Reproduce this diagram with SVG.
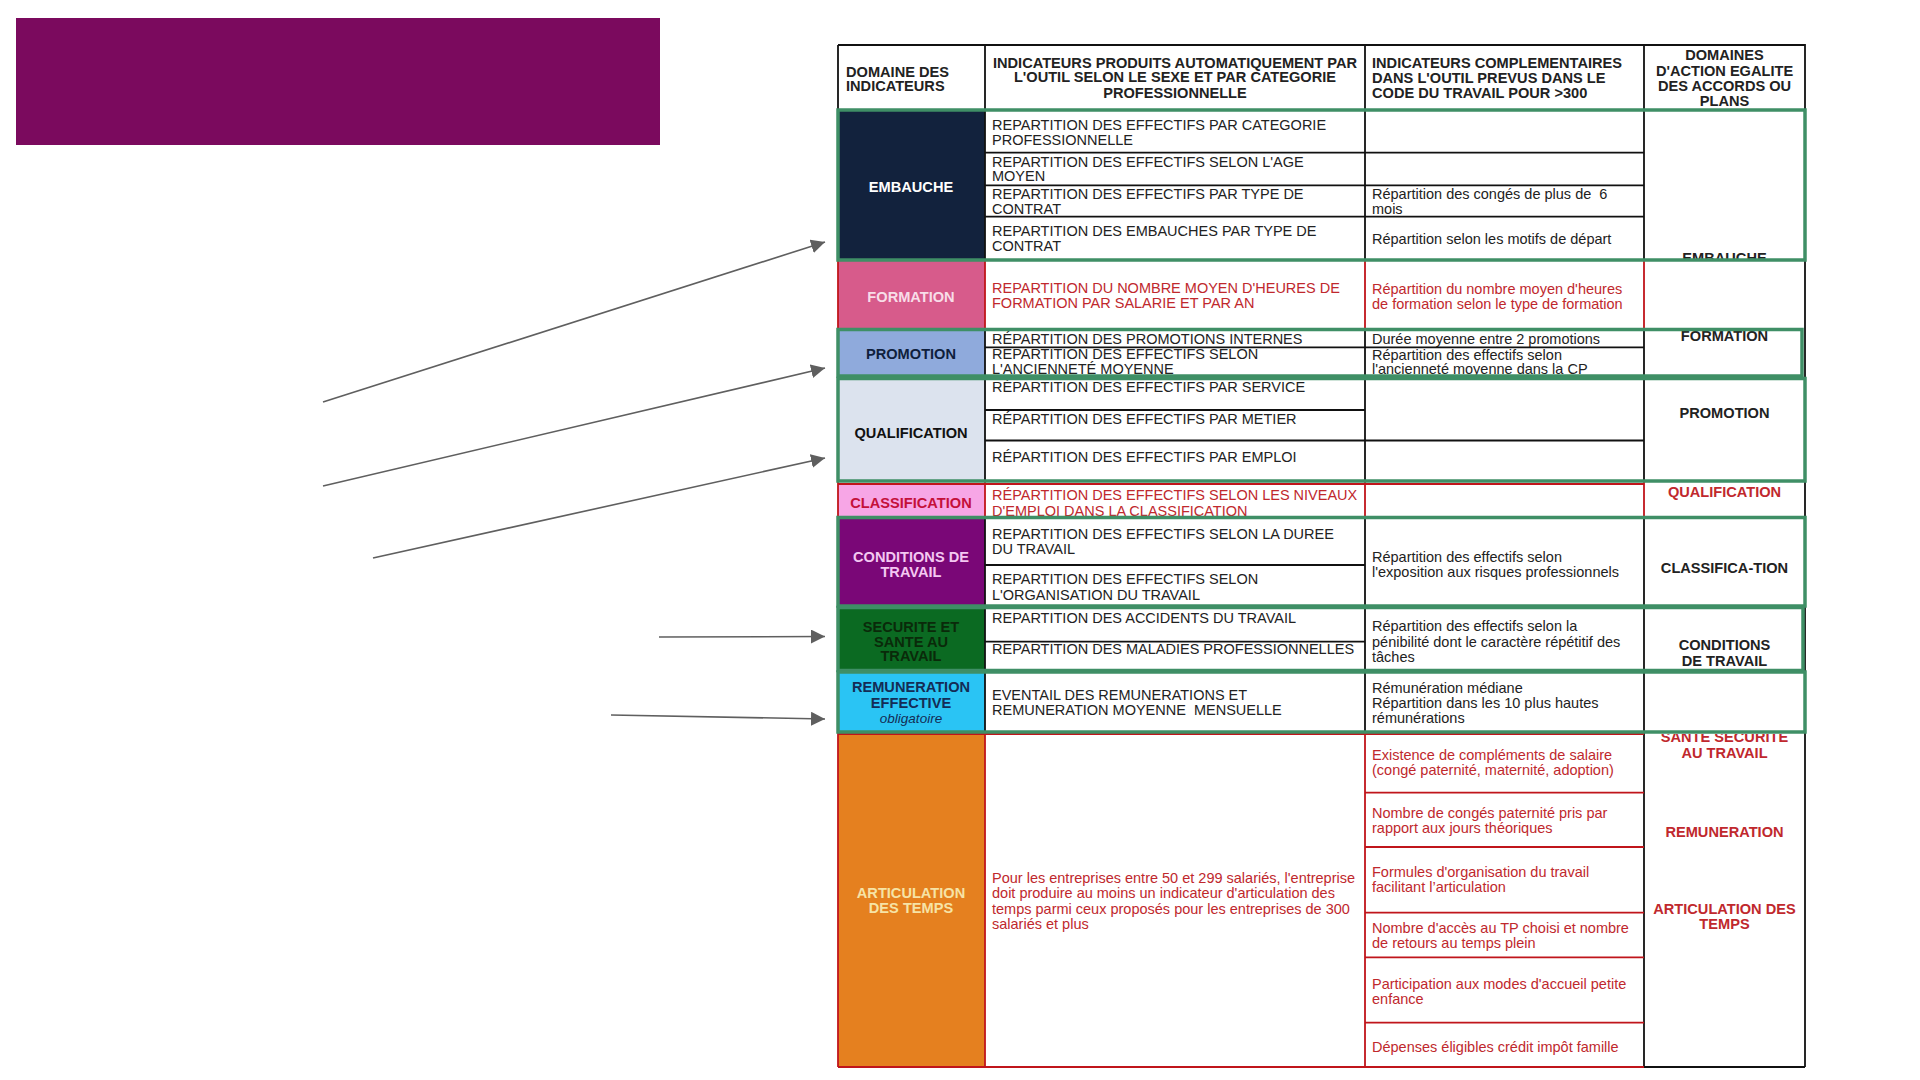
<svg xmlns="http://www.w3.org/2000/svg" width="1920" height="1080" viewBox="0 0 1920 1080">
<defs>
<style>
.t{font-family:"Liberation Sans",Arial,sans-serif;font-size:14.5px;fill:#222;white-space:pre}
.b{font-weight:bold;font-size:14.6px}
.r{fill:#c0282d}
.c{text-anchor:middle}
.k{stroke:#111;stroke-width:1.8;fill:none}
.rl{stroke:#c0151b;stroke-width:1.8;fill:none}
.g{fill:none;stroke:#3f8f66;stroke-width:3.5}
.arr{stroke:#5f5f5f;stroke-width:1.6;fill:none}
</style>
<marker id="ah" viewBox="0 0 10 10" refX="10" refY="5" markerWidth="14" markerHeight="14" markerUnits="userSpaceOnUse" orient="auto">
<path d="M0,0 L10,5 L0,10 z" fill="#5f5f5f"/>
</marker>
<clipPath id="cEmb"><rect x="1644" y="240" width="161" height="19"/></clipPath>
<clipPath id="cQual"><rect x="1644" y="486" width="161" height="30"/></clipPath>
<clipPath id="cSan"><rect x="1644" y="734" width="161" height="30"/></clipPath>
</defs>
<rect width="1920" height="1080" fill="#fff"/>
<rect id="title" x="16" y="18" width="644" height="127" fill="#7b0a5e"/>

<g id="header">
<text class="t b" x="846" y="76.5">DOMAINE DES</text>
<text class="t b" x="846" y="91">INDICATEURS</text>
<text class="t b c" x="1175" y="67.7">INDICATEURS PRODUITS AUTOMATIQUEMENT PAR</text>
<text class="t b c" x="1175" y="82.3">L'OUTIL SELON LE SEXE ET PAR CATEGORIE</text>
<text class="t b c" x="1175" y="97.7">PROFESSIONNELLE</text>
<text class="t b" x="1372" y="68.3">INDICATEURS COMPLEMENTAIRES</text>
<text class="t b" x="1372" y="82.7">DANS L'OUTIL PREVUS DANS LE</text>
<text class="t b" x="1372" y="97.7">CODE DU TRAVAIL POUR &gt;300</text>
<text class="t b c" x="1724.5" y="60">DOMAINES</text>
<text class="t b c" x="1724.5" y="75.7">D'ACTION EGALITE</text>
<text class="t b c" x="1724.5" y="91">DES ACCORDS OU</text>
<text class="t b c" x="1724.5" y="106">PLANS</text>
</g>

<g id="row-embauche">
<rect x="838" y="110" width="147" height="150" fill="#12223d"/>
<text class="t b c" x="911" y="192" style="fill:#fff">EMBAUCHE</text>
<text class="t" x="992" y="130">REPARTITION DES EFFECTIFS PAR CATEGORIE</text>
<text class="t" x="992" y="144.5">PROFESSIONNELLE</text>
<text class="t" x="992" y="166.5">REPARTITION DES EFFECTIFS SELON L'AGE</text>
<text class="t" x="992" y="181">MOYEN</text>
<text class="t" x="992" y="199">REPARTITION DES EFFECTIFS PAR TYPE DE</text>
<text class="t" x="992" y="213.5">CONTRAT</text>
<text class="t" x="992" y="235.5">REPARTITION DES EMBAUCHES PAR TYPE DE</text>
<text class="t" x="992" y="251">CONTRAT</text>
<text class="t" x="1372" y="199">Répartition des congés de plus de  6</text>
<text class="t" x="1372" y="213.5">mois</text>
<text class="t" x="1372" y="244">Répartition selon les motifs de départ</text>
<text class="t b c" x="1724.5" y="263" clip-path="url(#cEmb)">EMBAUCHE</text>
</g>

<g id="row-formation">
<rect x="838" y="261" width="147" height="68" fill="#d75b8b"/>
<text class="t b c" x="911" y="301.5" style="fill:#f8dde8">FORMATION</text>
<text class="t r" x="992" y="293.3">REPARTITION DU NOMBRE MOYEN D'HEURES DE</text>
<text class="t r" x="992" y="308.3">FORMATION PAR SALARIE ET PAR AN</text>
<text class="t r" x="1372" y="294">Répartition du nombre moyen d'heures</text>
<text class="t r" x="1372" y="308.5">de formation selon le type de formation</text>
<text class="t b c" x="1724.5" y="341">FORMATION</text>
</g>

<g id="row-promotion">
<rect x="838" y="329" width="147" height="47" fill="#8faadc"/>
<text class="t b c" x="911" y="359" style="fill:#0f1f3d">PROMOTION</text>
<text class="t" x="992" y="344.3">RÉPARTITION DES PROMOTIONS INTERNES</text>
<text class="t" x="992" y="359">REPARTITION DES EFFECTIFS SELON</text>
<text class="t" x="992" y="373.5">L'ANCIENNETÉ MOYENNE</text>
<text class="t" x="1372" y="344">Durée moyenne entre 2 promotions</text>
<text class="t" x="1372" y="359.5">Répartition des effectifs selon</text>
<text class="t" x="1372" y="374">l'ancienneté moyenne dans la CP</text>
<text class="t b c" x="1724.5" y="418">PROMOTION</text>
</g>

<g id="row-qualification">
<rect x="838" y="376" width="147" height="105" fill="#dce3ee"/>
<text class="t b c" x="911" y="438" style="fill:#111">QUALIFICATION</text>
<text class="t" x="992" y="392.3">RÉPARTITION DES EFFECTIFS PAR SERVICE</text>
<text class="t" x="992" y="424.3">RÉPARTITION DES EFFECTIFS PAR METIER</text>
<text class="t" x="992" y="461.7">RÉPARTITION DES EFFECTIFS PAR EMPLOI</text>
<text class="t b c r" x="1724.5" y="497" clip-path="url(#cQual)">QUALIFICATION</text>
</g>

<g id="row-classification">
<rect x="838" y="483" width="147" height="34" fill="#f7a6e6"/>
<text class="t b c" x="911" y="507.5" style="fill:#c4103a">CLASSIFICATION</text>
<text class="t r" x="992" y="500">RÉPARTITION DES EFFECTIFS SELON LES NIVEAUX</text>
<text class="t r" x="992" y="515.7">D'EMPLOI DANS LA CLASSIFICATION</text>
</g>

<g id="row-conditions">
<rect x="838" y="517" width="147" height="89" fill="#7a0777"/>
<text class="t b c" x="911" y="562" style="fill:#f4c8f2">CONDITIONS DE</text>
<text class="t b c" x="911" y="576.7" style="fill:#f4c8f2">TRAVAIL</text>
<text class="t" x="992" y="539">REPARTITION DES EFFECTIFS SELON LA DUREE</text>
<text class="t" x="992" y="554.3">DU TRAVAIL</text>
<text class="t" x="992" y="584.3">REPARTITION DES EFFECTIFS SELON</text>
<text class="t" x="992" y="600">L'ORGANISATION DU TRAVAIL</text>
<text class="t" x="1372" y="562">Répartition des effectifs selon</text>
<text class="t" x="1372" y="576.7">l'exposition aux risques professionnels</text>
<text class="t b c" x="1724.5" y="573">CLASSIFICA-TION</text>
</g>

<g id="row-securite">
<rect x="838" y="606" width="147" height="65" fill="#0b6a22"/>
<text class="t b c" x="911" y="631.5" style="fill:#0a2a0a">SECURITE ET</text>
<text class="t b c" x="911" y="646.5" style="fill:#0a2a0a">SANTE AU</text>
<text class="t b c" x="911" y="661" style="fill:#0a2a0a">TRAVAIL</text>
<text class="t" x="992" y="623.3">REPARTITION DES ACCIDENTS DU TRAVAIL</text>
<text class="t" x="992" y="654.3">REPARTITION DES MALADIES PROFESSIONNELLES</text>
<text class="t" x="1372" y="630.5">Répartition des effectifs selon la</text>
<text class="t" x="1372" y="646.5">pénibilité dont le caractère répétitif des</text>
<text class="t" x="1372" y="661.5">tâches</text>
<text class="t b c" x="1724.5" y="650">CONDITIONS</text>
<text class="t b c" x="1724.5" y="665.7">DE TRAVAIL</text>
</g>

<g id="row-remuneration">
<rect x="838" y="671" width="147" height="61" fill="#2ac4f4"/>
<text class="t b c" x="911" y="692" style="fill:#142c55">REMUNERATION</text>
<text class="t b c" x="911" y="707.5" style="fill:#142c55">EFFECTIVE</text>
<text class="t c" x="911" y="722.5" style="fill:#142c55;font-style:italic;font-size:13.5px">obligatoire</text>
<text class="t" x="992" y="700">EVENTAIL DES REMUNERATIONS ET</text>
<text class="t" x="992" y="715">REMUNERATION MOYENNE  MENSUELLE</text>
<text class="t" x="1372" y="692.5">Rémunération médiane</text>
<text class="t" x="1372" y="707.5">Répartition dans les 10 plus hautes</text>
<text class="t" x="1372" y="722.5">rémunérations</text>
</g>

<g id="row-articulation">
<rect x="838" y="732" width="147" height="335" fill="#e5801f"/>
<text class="t b c" x="911" y="898" style="fill:#f6e3a6">ARTICULATION</text>
<text class="t b c" x="911" y="913" style="fill:#f6e3a6">DES TEMPS</text>
<text class="t r" x="992" y="883">Pour les entreprises entre 50 et 299 salariés, l'entreprise</text>
<text class="t r" x="992" y="898">doit produire au moins un indicateur d'articulation des</text>
<text class="t r" x="992" y="913.5">temps parmi ceux proposés pour les entreprises de 300</text>
<text class="t r" x="992" y="929">salariés et plus</text>
<text class="t r" x="1372" y="759.5">Existence de compléments de salaire</text>
<text class="t r" x="1372" y="775">(congé paternité, maternité, adoption)</text>
<text class="t r" x="1372" y="818">Nombre de congés paternité pris par</text>
<text class="t r" x="1372" y="833">rapport aux jours théoriques</text>
<text class="t r" x="1372" y="877">Formules d'organisation du travail</text>
<text class="t r" x="1372" y="892">facilitant l’articulation</text>
<text class="t r" x="1372" y="933">Nombre d'accès au TP choisi et nombre</text>
<text class="t r" x="1372" y="948">de retours au temps plein</text>
<text class="t r" x="1372" y="988.5">Participation aux modes d'accueil petite</text>
<text class="t r" x="1372" y="1004">enfance</text>
<text class="t r" x="1372" y="1052">Dépenses éligibles crédit impôt famille</text>
<text class="t b c r" x="1724.5" y="742" clip-path="url(#cSan)">SANTE SECURITE</text>
<text class="t b c r" x="1724.5" y="758">AU TRAVAIL</text>
<text class="t b c r" x="1724.5" y="837">REMUNERATION</text>
<text class="t b c r" x="1724.5" y="914">ARTICULATION DES</text>
<text class="t b c r" x="1724.5" y="929">TEMPS</text>
</g>

<g id="grid">
<path class="k" d="M838,45 H1805 V1067 M838,45 V261 M838,329 V482 M838,517 V732 M985,45 V261 M985,329 V482 M985,517 V732 M1365,45 V261 M1365,329 V482 M1365,517 V732 M1644,45 V261 M1644,329 V482 M1644,517 V1067 M1644,1067 H1805"/>
<path class="k" d="M985,152.7 H1644 M985,185.3 H1644 M985,216.7 H1644 M985,347.3 H1644 M985,410 H1365 M985,440.5 H1644 M985,565 H1365 M985,641.7 H1365"/>
<path class="rl" d="M838,261 V329 M985,261 V329 M1365,261 V329 M1644,261 V329 M838,482 V517 M985,482 V517 M1365,482 V517 M1644,482 V517 M838,484 H1644 M838,732 V1067 M985,732 V1067 M1365,732 V1067 M838,1067 H1644 M838,734 H1644 M1365,792.7 H1644 M1365,847 H1644 M1365,912.7 H1644 M1365,957.3 H1644 M1365,1022.7 H1644"/>
<rect class="g" x="838" y="110" width="967" height="150"/>
<rect class="g" x="838" y="329.5" width="964" height="46.5"/>
<rect class="g" x="838" y="378.5" width="967" height="102.5"/>
<rect class="g" x="838" y="517.5" width="967" height="88.5"/>
<rect class="g" x="838" y="607.5" width="965" height="63"/>
<rect class="g" x="838" y="672" width="967" height="60"/>
</g>

<g id="connectors">
<path class="arr" d="M323,402 L825,242" marker-end="url(#ah)"/>
<path class="arr" d="M323,486 L825,368" marker-end="url(#ah)"/>
<path class="arr" d="M373,558 L825,458" marker-end="url(#ah)"/>
<path class="arr" d="M659,637 L825,636.5" marker-end="url(#ah)"/>
<path class="arr" d="M611,715 L825,719" marker-end="url(#ah)"/>
</g>
</svg>
